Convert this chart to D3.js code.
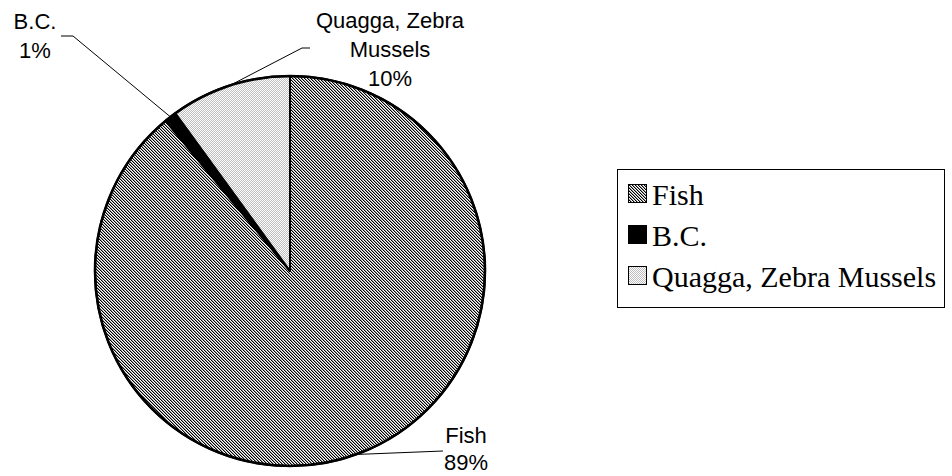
<!DOCTYPE html>
<html>
<head>
<meta charset="utf-8">
<script src="https://cdn.jsdelivr.net/npm/d3@7"></script>
<style>
  html, body { margin: 0; padding: 0; background: #fff; }
  svg { display: block; }
</style>
</head>
<body>
<svg id="chart" width="952" height="476"></svg>
<script>
// ---- data ----
const categories = ["Fish", "B.C.", "Quagga, Zebra Mussels"];
const values = [89, 1, 10];
const percentLabels = ["89%", "1%", "10%"];
const labelNameLines = [["Fish"], ["B.C."], ["Quagga, Zebra", "Mussels"]];

// ---- layout ----
const W = 952, H = 476;
const cx = 290, cy = 271, R = 195;
const svg = d3.select("#chart");
const defs = svg.append("defs");

// fish: fine diagonal stripes pattern (downward diagonal)
const pf = defs.append("pattern").attr("id", "pFish").attr("patternUnits", "userSpaceOnUse")
  .attr("width", 3).attr("height", 3);
pf.append("rect").attr("width", 3).attr("height", 3).attr("fill", "#fff");
for (let y = 0; y < 3; y++) for (let x = 0; x < 3; x++) {
  const k = ((x - y) % 3 + 3) % 3;
  if (k === 0) pf.append("rect").attr("x", x).attr("y", y).attr("width", 1).attr("height", 1)
    .attr("fill", "#000").attr("shape-rendering", "crispEdges");
  if (k === 1) pf.append("rect").attr("x", x).attr("y", y).attr("width", 1).attr("height", 1)
    .attr("fill", "#9a9a9a").attr("shape-rendering", "crispEdges");
}
// quagga: fine light dots
const pq = defs.append("pattern").attr("id", "pQuag").attr("patternUnits", "userSpaceOnUse")
  .attr("width", 2).attr("height", 2);
pq.append("rect").attr("width", 2).attr("height", 2).attr("fill", "#fff");
pq.append("rect").attr("x", 0).attr("y", 0).attr("width", 1).attr("height", 1).attr("fill", "#bdbdbd").attr("shape-rendering", "crispEdges");
pq.append("rect").attr("x", 1).attr("y", 1).attr("width", 1).attr("height", 1).attr("fill", "#bdbdbd").attr("shape-rendering", "crispEdges");

const fills = ["url(#pFish)", "#000", "url(#pQuag)"];

const pie = d3.pie().sort(null).value(d => d)(values);
const arc = d3.arc().innerRadius(0).outerRadius(R);

const g = svg.append("g").attr("transform", `translate(${cx},${cy})`);
g.selectAll("path.slice").data(pie).join("path")
  .attr("class", "slice")
  .attr("d", arc)
  .attr("fill", (d, i) => fills[i])
  .attr("stroke", "#000")
  .attr("stroke-width", 2)
  .attr("stroke-linejoin", "round");
// thicker outer rim
g.append("circle").attr("r", R).attr("fill", "none").attr("stroke", "#000").attr("stroke-width", 2.6);

// ---- labels ----
const font = "'Liberation Sans', Arial, sans-serif";
const labelCfg = [
  { x: 466, y: 443, lh: 27, elbow: [[443, 451]] },
  { x: 35, y: 29, lh: 29, elbow: [[73, 36], [61, 36]] },
  { x: 390, y: 28, lh: 29, elbow: [[302, 48], [310, 48]] }
];
pie.forEach((d, i) => {
  const mid = (d.startAngle + d.endAngle) / 2;
  const sx = cx + R * Math.sin(mid), sy = cy - R * Math.cos(mid);
  const pts = [[sx, sy]].concat(labelCfg[i].elbow);
  svg.append("path")
    .attr("d", d3.line()(pts))
    .attr("fill", "none").attr("stroke", "#000").attr("stroke-width", 1);
  const lines = labelNameLines[i].concat([percentLabels[i]]);
  const t = svg.append("text")
    .attr("font-family", font).attr("font-size", 22).attr("text-anchor", "middle").attr("fill", "#000");
  lines.forEach((ln, k) => {
    t.append("tspan").attr("x", labelCfg[i].x).attr("y", labelCfg[i].y + k * labelCfg[i].lh).text(ln);
  });
});

// ---- legend ----
const lg = svg.append("g");
lg.append("rect").attr("x", 617.5).attr("y", 169.5).attr("width", 327).attr("height", 138)
  .attr("fill", "#fff").attr("stroke", "#000").attr("stroke-width", 1);
const legY = d3.scalePoint().domain(categories).range([205, 287]);
categories.forEach((c, i) => {
  const by = legY(c);
  lg.append("rect").attr("x", 628.5).attr("y", by - 20.5).attr("width", 18).attr("height", 18)
    .attr("fill", fills[i]).attr("stroke", "#000").attr("stroke-width", 1);
  lg.append("text").attr("x", 652).attr("y", by)
    .attr("font-family", "'Liberation Serif', 'Times New Roman', serif")
    .attr("font-size", 30).attr("fill", "#000").text(c);
});
</script>
</body>
</html>
